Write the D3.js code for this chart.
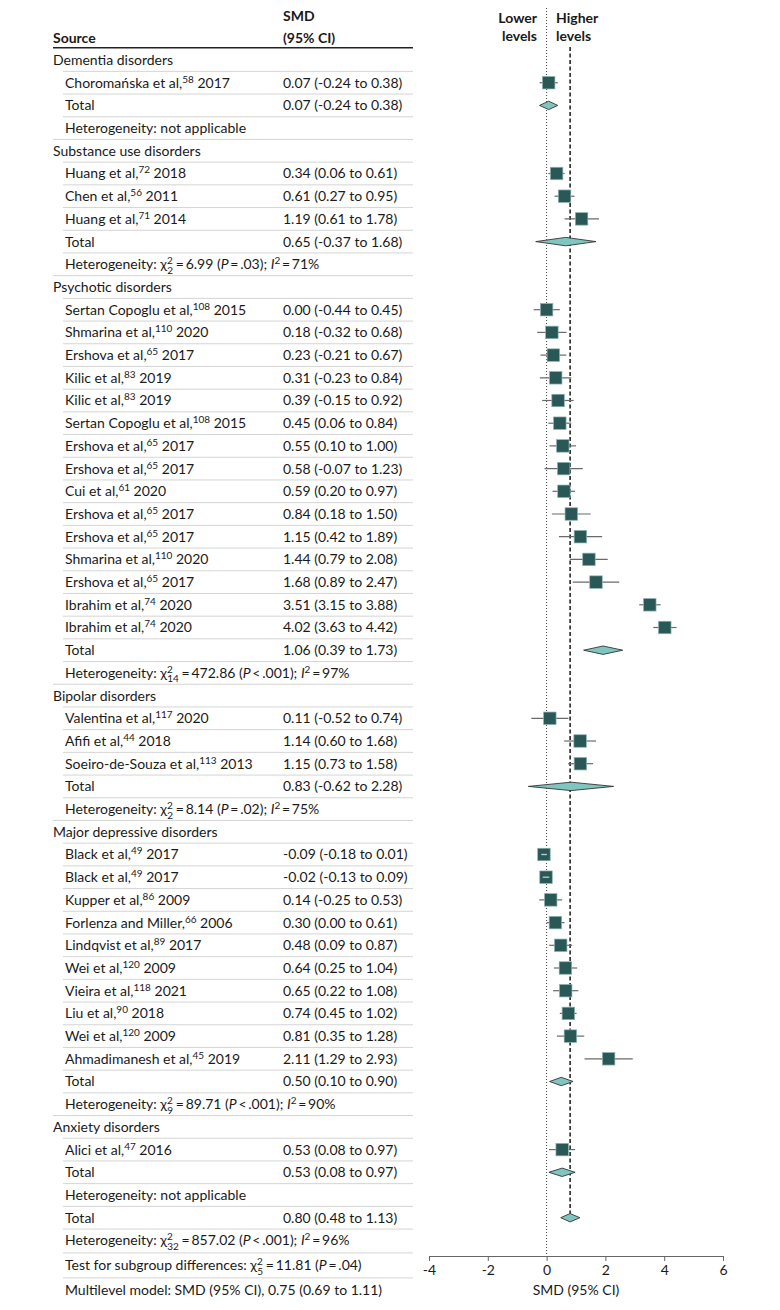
<!DOCTYPE html>
<html>
<head>
<meta charset="utf-8">
<script src="https://cdn.jsdelivr.net/npm/d3@7"></script>
<style>
  body { margin: 0; background: #fff; }
  svg { display: block; font-family: Lato, "Open Sans", sans-serif; }
</style>
</head>
<body>
<div id="chart"></div>
<script>
const groupNames = ["Dementia disorders", "Substance use disorders", "Psychotic disorders",
  "Bipolar disorders", "Major depressive disorders", "Anxiety disorders"];

const studyGroup = [0, 1, 1, 1, 2, 2, 2, 2, 2, 2, 2, 2, 2, 2, 2, 2, 2, 2, 2,
  3, 3, 3, 4, 4, 4, 4, 4, 4, 4, 4, 4, 4, 5];
const studyAuthor = ["Choromańska et al", "Huang et al", "Chen et al", "Huang et al",
  "Sertan Copoglu et al", "Shmarina et al", "Ershova et al", "Kilic et al", "Kilic et al",
  "Sertan Copoglu et al", "Ershova et al", "Ershova et al", "Cui et al", "Ershova et al",
  "Ershova et al", "Shmarina et al", "Ershova et al", "Ibrahim et al", "Ibrahim et al",
  "Valentina et al", "Afifi et al", "Soeiro-de-Souza et al",
  "Black et al", "Black et al", "Kupper et al", "Forlenza and Miller", "Lindqvist et al",
  "Wei et al", "Vieira et al", "Liu et al", "Wei et al", "Ahmadimanesh et al",
  "Alici et al"];
const studyRef = [58, 72, 56, 71, 108, 110, 65, 83, 83, 108, 65, 65, 61, 65, 65, 110, 65, 74, 74,
  117, 44, 113, 49, 49, 86, 66, 89, 120, 118, 90, 120, 45, 47];
const studyYear = [2017, 2018, 2011, 2014, 2015, 2020, 2017, 2019, 2019, 2015, 2017, 2017, 2020,
  2017, 2017, 2020, 2017, 2020, 2020, 2020, 2018, 2013, 2017, 2017, 2009, 2006, 2017, 2009,
  2021, 2018, 2009, 2019, 2016];
const studyEst = [0.07, 0.34, 0.61, 1.19, 0.00, 0.18, 0.23, 0.31, 0.39, 0.45, 0.55, 0.58, 0.59,
  0.84, 1.15, 1.44, 1.68, 3.51, 4.02, 0.11, 1.14, 1.15, -0.09, -0.02, 0.14, 0.30, 0.48, 0.64,
  0.65, 0.74, 0.81, 2.11, 0.53];
const studyLo = [-0.24, 0.06, 0.27, 0.61, -0.44, -0.32, -0.21, -0.23, -0.15, 0.06, 0.10, -0.07,
  0.20, 0.18, 0.42, 0.79, 0.89, 3.15, 3.63, -0.52, 0.60, 0.73, -0.18, -0.13, -0.25, 0.00, 0.09,
  0.25, 0.22, 0.45, 0.35, 1.29, 0.08];
const studyHi = [0.38, 0.61, 0.95, 1.78, 0.45, 0.68, 0.67, 0.84, 0.92, 0.84, 1.00, 1.23, 0.97,
  1.50, 1.89, 2.08, 2.47, 3.88, 4.42, 0.74, 1.68, 1.58, 0.01, 0.09, 0.53, 0.61, 0.87, 1.04,
  1.08, 1.02, 1.28, 2.93, 0.97];

// printed subgroup totals
const totalEst = [0.07, 0.65, 1.06, 0.83, 0.50, 0.53];
const totalLo = [-0.24, -0.37, 0.39, -0.62, 0.10, 0.08];
const totalHi = [0.38, 1.68, 1.73, 2.28, 0.90, 0.97];
// diamonds as drawn (the psychotic one sits to the right of its printed value)
const diamondEst = [0.07, 0.65, 1.92, 0.83, 0.50, 0.53];
const diamondLo = [-0.24, -0.37, 1.26, -0.62, 0.10, 0.08];
const diamondHi = [0.38, 1.68, 2.59, 2.28, 0.90, 0.97];

const hetDf = [null, "2", "14", "2", "9", null];
const hetChi = [null, "6.99", "472.86", "8.14", "89.71", null];
const hetP = [null, "=\u2009.03", "<\u2009.001", "=\u2009.02", "<\u2009.001", null];
const hetI2 = [null, 71, 97, 75, 90, null];

const overallEst = 0.80, overallLo = 0.48, overallHi = 1.13;
const overallDf = "32", overallChi = "857.02", overallP = "<\u2009.001", overallI2 = 96;
const subgroupDf = "5", subgroupChi = "11.81", subgroupP = "=\u2009.04";
const multilevelText = "Multilevel model: SMD (95% CI), 0.75 (0.69 to 1.11)";
const xTicks = [-4, -2, 0, 2, 4, 6];

const width = 780, height = 1310;
const fs = 14, sup = 10;
const fmt = v => v.toFixed(2);
const ciText = (e, l, h) => `${fmt(e)} (${fmt(l)} to ${fmt(h)})`;

// build the row list
const rows = [];
groupNames.forEach((g, gi) => {
  rows.push({type: "group", label: g});
  studyGroup.forEach((sg, si) => {
    if (sg !== gi) return;
    rows.push({type: "study", author: studyAuthor[si], ref: studyRef[si], year: studyYear[si],
      est: studyEst[si], lo: studyLo[si], hi: studyHi[si]});
  });
  rows.push({type: "total", text: ciText(totalEst[gi], totalLo[gi], totalHi[gi]),
    est: diamondEst[gi], lo: diamondLo[gi], hi: diamondHi[gi]});
  rows.push({type: "het", df: hetDf[gi], chi: hetChi[gi], p: hetP[gi], i2: hetI2[gi], end: gi < 5});
});
rows.push({type: "total", text: ciText(overallEst, overallLo, overallHi),
  est: overallEst, lo: overallLo, hi: overallHi, overall: true});
rows.push({type: "het", df: overallDf, chi: overallChi, p: overallP, i2: overallI2});
rows.push({type: "test"});
rows.push({type: "multi"});

const yStep = d3.scaleLinear().domain([0, 1]).range([60, 82.7]);
const rowY = i => yStep(i) + Math.max(0, i - 52) * 2.3;
rows.forEach((r, i) => r.y = rowY(i));

const x = d3.scaleLinear().domain([-4, 6]).range([429, 723]);
const axisY = 1256;

const svg = d3.select("#chart").append("svg")
  .attr("width", width).attr("height", height)
  .attr("viewBox", [0, 0, width, height]);

svg.append("rect").attr("width", width).attr("height", height).attr("fill", "#fff");

// header
const head = svg.append("g").attr("font-size", fs).attr("font-weight", 700).attr("fill", "#1a1a1a");
head.append("text").attr("x", 53).attr("y", 38).attr("dy", "0.35em").text("Source");
head.append("text").attr("x", 283).attr("y", 16).attr("dy", "0.35em").text("SMD");
head.append("text").attr("x", 283).attr("y", 38).attr("dy", "0.35em").text("(95% CI)");
head.append("text").attr("x", 537).attr("y", 18).attr("dy", "0.35em").attr("text-anchor", "end").text("Lower");
head.append("text").attr("x", 537).attr("y", 36).attr("dy", "0.35em").attr("text-anchor", "end").text("levels");
head.append("text").attr("x", 556).attr("y", 18).attr("dy", "0.35em").text("Higher");
head.append("text").attr("x", 556).attr("y", 36).attr("dy", "0.35em").text("levels");

svg.append("line").attr("x1", 53).attr("x2", 413).attr("y1", 47.7).attr("y2", 47.7)
  .attr("stroke", "#222").attr("stroke-width", 1.5);

// row separators
svg.append("g").selectAll("line")
  .data(rows.slice(0, -1))
  .join("line")
    .attr("x1", d => d.end ? 53 : 63)
    .attr("x2", 413)
    .attr("y1", (d, i) => (rowY(i) + rowY(i + 1)) / 2)
    .attr("y2", (d, i) => (rowY(i) + rowY(i + 1)) / 2)
    .attr("stroke", "#d4d4d4").attr("stroke-width", 1);

// row texts
const rowText = svg.append("g").attr("font-size", fs).attr("fill", "#1a1a1a");

function addStats(t, prefix, df, chi, p, i2) {
  t.append("tspan").text(prefix + "\u03c7");
  t.append("tspan").attr("font-size", sup).attr("dy", -5).text("2");
  t.append("tspan").attr("font-size", sup).attr("dx", -5.6).attr("dy", 9.5).text(df);
  t.append("tspan").attr("dy", -4.5).attr("dx", 1).text("\u2009=\u2009" + chi + " (");
  t.append("tspan").attr("font-style", "italic").text("P");
  t.append("tspan").text("\u2009" + p + ")" + (i2 != null ? "; " : ""));
  if (i2 != null) {
    t.append("tspan").attr("font-style", "italic").text("I");
    t.append("tspan").attr("font-size", sup).attr("dy", -5).text("2");
    t.append("tspan").attr("dy", 5).text("\u2009=\u2009" + i2 + "%");
  }
}

rows.forEach(r => {
  const t = rowText.append("text").attr("y", r.y).attr("dy", "0.35em")
    .attr("x", r.type === "group" ? 53 : 65);
  if (r.type === "group") t.text(r.label);
  else if (r.type === "study") {
    t.append("tspan").text(r.author + ",");
    t.append("tspan").attr("font-size", sup).attr("dy", -5).text(r.ref);
    t.append("tspan").attr("dy", 5).text(" " + r.year);
    rowText.append("text").attr("x", 283).attr("y", r.y).attr("dy", "0.35em")
      .text(ciText(r.est, r.lo, r.hi));
  } else if (r.type === "total") {
    t.text("Total");
    rowText.append("text").attr("x", 283).attr("y", r.y).attr("dy", "0.35em").text(r.text);
  } else if (r.type === "het") {
    if (r.df == null) t.text("Heterogeneity: not applicable");
    else addStats(t, "Heterogeneity: ", r.df, r.chi, r.p, r.i2);
  } else if (r.type === "test") {
    addStats(t, "Test for subgroup differences: ", subgroupDf, subgroupChi, subgroupP, null);
  } else {
    t.text(multilevelText);
  }
});

// reference lines
svg.append("line").attr("x1", x(0)).attr("x2", x(0)).attr("y1", 8).attr("y2", axisY)
  .attr("stroke", "#444").attr("stroke-width", 1).attr("stroke-dasharray", "1,2");
const overallRow = rows.find(r => r.overall);
svg.append("line").attr("x1", x(overallEst)).attr("x2", x(overallEst))
  .attr("y1", 47).attr("y2", overallRow.y - 4)
  .attr("stroke", "#333").attr("stroke-width", 1.7).attr("stroke-dasharray", "4,2.5");

// studies
const studies = rows.filter(r => r.type === "study");
const half = 6.25;
const marks = svg.append("g");
marks.selectAll("line.ci")
  .data(studies)
  .join("line").attr("class", "ci")
    .attr("x1", d => x(d.lo)).attr("x2", d => x(d.hi))
    .attr("y1", d => d.y).attr("y2", d => d.y)
    .attr("stroke", "#6a6a6a").attr("stroke-width", 1.2);
marks.selectAll("rect")
  .data(studies)
  .join("rect")
    .attr("x", d => x(d.est) - half).attr("y", d => d.y - half)
    .attr("width", half * 2).attr("height", half * 2)
    .attr("fill", "#295856").attr("stroke", "#8fb5b1").attr("stroke-width", 0.7);
marks.selectAll("line.inner")
  .data(studies.filter(d => x(d.hi) - x(d.lo) < half * 2 - 2))
  .join("line").attr("class", "inner")
    .attr("x1", d => x(d.lo)).attr("x2", d => x(d.hi))
    .attr("y1", d => d.y).attr("y2", d => d.y)
    .attr("stroke", "#b9d3d0").attr("stroke-width", 1.3);

// diamonds
const dh = 4.2;
marks.selectAll("path")
  .data(rows.filter(r => r.type === "total"))
  .join("path")
    .attr("d", d => `M${x(d.lo)},${d.y}L${x(d.est)},${d.y - dh}L${x(d.hi)},${d.y}L${x(d.est)},${d.y + dh}Z`)
    .attr("fill", "#80c6c0").attr("stroke", "#333").attr("stroke-width", 0.9);

// axis
const axis = svg.append("g").attr("transform", `translate(0,${axisY})`)
  .call(d3.axisBottom(x).tickValues(xTicks).tickSize(5).tickPadding(4)
    .tickFormat(d => (d < 0 ? "-" + Math.abs(d) : d)));
axis.select(".domain").attr("stroke", "#666");
axis.selectAll(".tick line").attr("stroke", "#666");
axis.selectAll("text").attr("font-size", fs).attr("font-family", "Lato, sans-serif").attr("fill", "#1a1a1a");

svg.append("text").attr("x", x(1)).attr("y", 1290).attr("dy", "0.35em")
  .attr("text-anchor", "middle").attr("font-size", fs).attr("fill", "#1a1a1a")
  .text("SMD (95% CI)");
</script>
</body>
</html>
